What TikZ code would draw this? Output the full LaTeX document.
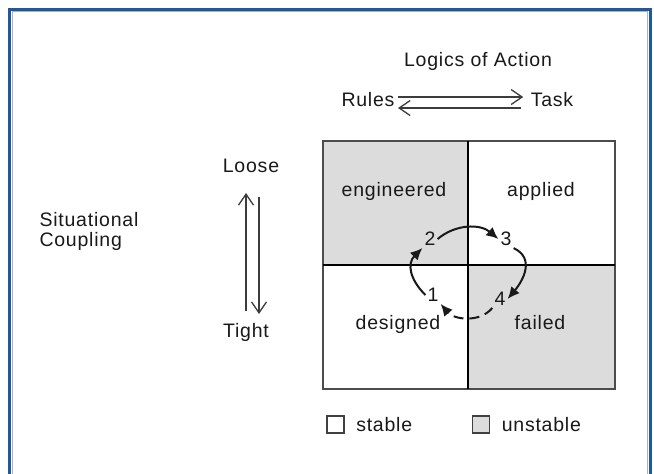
\documentclass[tikz,border=0pt]{standalone}
\usepackage{fontspec}
\setmainfont{Liberation Sans}[LetterSpace=4]
\usetikzlibrary{arrows.meta, calc, positioning}
\definecolor{frameblue}{RGB}{31,88,158}
\definecolor{cellgray}{RGB}{220,220,220}
\definecolor{inkgray}{RGB}{25,25,25}

\begin{document}
\begin{tikzpicture}[x=1pt, y=1pt,
    every node/.style={font=\fontsize{19.5}{20}\selectfont, text=inkgray},
    num/.style={inner sep=2pt},
    cycarrow/.style={line width=2pt, draw=inkgray, -{Latex[length=12pt, width=11pt]}},
    openarrow/.style={line width=1.3pt, draw=inkgray!85, -{Straight Barb[length=11pt, width=15pt]}},
    legendbox/.style={draw=black!75, line width=1.5pt, minimum size=17pt, inner sep=0pt}]
    % Grid corners
    \def\gx{323} % left
    \def\gX{615} % right
    \def\gy{85}  % bottom
    \def\gY{333} % top
    \def\mx{468} % middle vertical
    \def\my{209} % middle horizontal

    % Canvas and frame
    \useasboundingbox (0,0) rectangle (654,474);
    \fill[white] (0,0) rectangle (654,474);
    \draw[frameblue, line width=3pt] (9.5,-5) -- (9.5,464.5) -- (650,464.5) -- (650,-5);
    \draw[gray!60, line width=0.6pt] (11.8,-5) -- (11.8,462.2) -- (647.7,462.2) -- (647.7,-5);

    % Cells
    \fill[cellgray] (\gx,\my) rectangle (\mx,\gY);
    \fill[cellgray] (\mx,\gy) rectangle (\gX,\my);
    \draw[black!70, line width=2pt] (\gx,\gy) rectangle (\gX,\gY);
    \draw[black, line width=2.5pt] (\mx,\gy) -- (\mx,\gY) (\gx,\my) -- (\gX,\my);

    \node[anchor=base] (eng) at (394,277) {engineered};
    \node[anchor=base] (app) at (541,277) {applied};
    \node[anchor=base] (des) at (398,144) {designed};
    \node[anchor=base] (fail) at (540,144) {failed};

    % Logics of action
    \node[anchor=base] (logics) at (478,407) {Logics of Action};
    \node[anchor=base] (rules) at (368,367) {Rules};
    \node[anchor=base] (task) at (552,367) {Task};
    \draw[openarrow, shorten >=4pt] ([yshift=3pt]rules.east) -- ([yshift=3pt]task.west);
    \draw[openarrow, shorten <=6pt] ([yshift=-8pt]task.west) -- ([yshift=-8pt]rules.east);

    % Situational coupling
    \node[anchor=base west, align=left] (coupling) at (36,227) {Situational\\Coupling};
    \node[anchor=base] (loose) at (251,301) {Loose};
    \node[anchor=base] (tight) at (246,136) {Tight};
    \coordinate (upfoot) at (246,163);
    \coordinate (uptip) at (246,281);
    \coordinate (downtop) at (259,277);
    \coordinate (downtip) at (259,160);
    \draw[openarrow] (upfoot) -- (uptip);
    \draw[openarrow] (downtop) -- (downtip);

    % Cycle
    \node[num] (n1) at (433,179) {1};
    \node[num] (n2) at (430,235) {2};
    \node[num] (n3) at (506,235) {3};
    \node[num] (n4) at (500,175) {4};
    \draw[cycarrow] (n2.east) to[out=40, in=140] (n3.west);
    \draw[cycarrow] (n3.south east) to[out=-25, in=50, looseness=1.2] (n4.east);
    \draw[cycarrow, dash pattern=on 10pt off 6pt] (n4.south west) to[out=-130, in=-50] (n1.south east);
    \draw[cycarrow] (n1.west) to[out=135, in=-135, looseness=1.2] (n2.south west);

    % Legend
    \node[legendbox, fill=white] (stablebox) at (335.5,49.5) {};
    \node[anchor=base west] (stable) at ($(stablebox.east |- 0,42)+(8,0)$) {stable};
    \node[legendbox, fill=cellgray] (unstablebox) at (481,49.5) {};
    \node[anchor=base west] (unstable) at ($(unstablebox.east |- 0,42)+(8,0)$) {unstable};

\end{tikzpicture}
\end{document}
